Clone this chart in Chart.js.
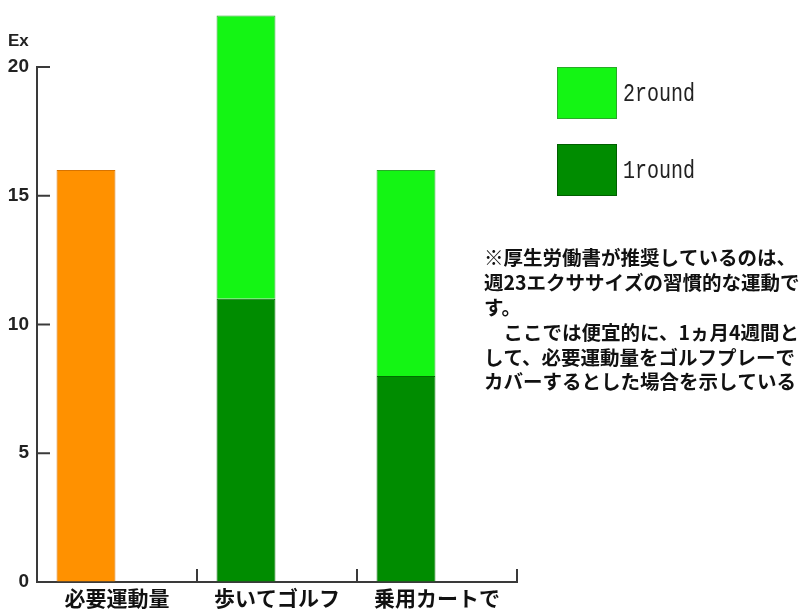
<!DOCTYPE html>
<html>
<head>
<meta charset="utf-8">
<script src="https://cdn.jsdelivr.net/npm/chart.js@4"></script>
<style>
  body { margin: 0; background: #fff; }
  #wrap { width: 806px; height: 613px; }
</style>
</head>
<body>
<div id="wrap"><canvas id="golfChart" width="806" height="613"></canvas></div>
<script>
// data
const categories = ['必要運動量', '歩いてゴルフ', '乗用カートで'];
const needValues = [16, null, null];    // required amount (orange)
const round1Values = [null, 11, 8];     // 1round
const round2Values = [null, 11, 8];     // 2round (added on top)
const yTicks = [0, 5, 10, 15, 20];
const yUnit = 'Ex';
const legendLabels = ['2round', '1round'];
const noteLines = [
    '※厚生労働書が推奨しているのは、',
    '週23エクササイズの習慣的な運動で',
    'す。',
    '　ここでは便宜的に、1ヵ月4週間と',
    'して、必要運動量をゴルフプレーで',
    'カバーするとした場合を示している'
];

const orange = 'rgb(255,145,0)';
const lightGreen = 'rgb(20,245,20)';
const darkGreen = 'rgb(0,140,0)';
const axisColor = '#3a3a3a';
const jpFont = "'Noto Sans CJK JP', sans-serif";

// inward tick marks, legend boxes and the note
const extras = {
    id: 'extras',
    afterDraw(chart) {
        const ctx = chart.ctx;
        const x = chart.scales.x, y = chart.scales.y;
        const area = chart.chartArea;
        ctx.save();
        ctx.strokeStyle = axisColor;
        ctx.lineWidth = 2;
        // y ticks pointing right
        yTicks.forEach(v => {
            if (v === 0) return;
            const py = y.getPixelForValue(v);
            ctx.beginPath();
            ctx.moveTo(area.left, py);
            ctx.lineTo(area.left + 13, py);
            ctx.stroke();
        });
        // x boundary ticks pointing up
        for (let i = 0; i < categories.length; i++) {
            let px;
            if (i < categories.length - 1) {
                px = (x.getPixelForValue(i) + x.getPixelForValue(i + 1)) / 2;
            } else {
                px = area.right;
            }
            ctx.beginPath();
            ctx.moveTo(px, area.bottom);
            ctx.lineTo(px, area.bottom - 13);
            ctx.stroke();
        }
        // unit label
        ctx.fillStyle = '#222';
        ctx.font = "bold 17px 'Liberation Sans', sans-serif";
        ctx.textAlign = 'left';
        ctx.textBaseline = 'middle';
        ctx.fillText(yUnit, 8, 41, 21);

        // legend
        const legendColors = [lightGreen, darkGreen];
        const boxBorders = ['rgb(40,170,40)', 'rgb(0,95,0)'];
        legendLabels.forEach((lab, i) => {
            const top = 67 + i * 77;
            ctx.fillStyle = legendColors[i];
            ctx.fillRect(557, top, 60, 52);
            ctx.strokeStyle = boxBorders[i];
            ctx.lineWidth = 1;
            ctx.strokeRect(557.5, top + 0.5, 59, 51);
            ctx.fillStyle = '#222';
            ctx.font = "25px 'Liberation Mono', monospace";
            ctx.textBaseline = 'middle';
            ctx.fillText(lab, 623, top + 27, 72);
        });

        // note
        ctx.fillStyle = '#111';
        ctx.font = 'bold 19.5px ' + jpFont;
        ctx.textBaseline = 'middle';
        noteLines.forEach((line, i) => {
            ctx.fillText(line, 484, 258 + i * 24.8);
        });
        ctx.restore();
    }
};

const ctx = document.getElementById('golfChart').getContext('2d');
const myChart = new Chart(ctx, {
    type: 'bar',
    data: {
        labels: categories,
        datasets: [
            {
                label: '必要運動量',
                data: needValues,
                backgroundColor: orange,
                borderColor: 'rgb(215,115,0)',
                borderWidth: 1,
                stack: 'main',
                clip: false
            },
            {
                label: legendLabels[1],
                data: round1Values,
                backgroundColor: darkGreen,
                borderColor: 'rgb(0,110,0)',
                borderWidth: 1,
                stack: 'main',
                clip: false
            },
            {
                label: legendLabels[0],
                data: round2Values,
                backgroundColor: lightGreen,
                borderColor: 'rgb(40,170,40)',
                borderWidth: 1,
                stack: 'main',
                clip: false
            },
            {
                // empty stack that pushes the bars to the left of each slot
                label: 'pad',
                data: [0, 0, 0],
                backgroundColor: 'rgba(0,0,0,0)',
                borderWidth: 0,
                stack: 'pad'
            }
        ]
    },
    options: {
        responsive: false,
        animation: false,
        categoryPercentage: 0.775,
        barPercentage: 0.95,
        layout: { padding: { top: 67, right: 289, left: 0, bottom: 0 } },
        plugins: {
            legend: { display: false },
            tooltip: { enabled: false }
        },
        scales: {
            x: {
                stacked: true,
                grid: { display: true, drawOnChartArea: false, drawTicks: false },
                border: { color: axisColor, width: 2 },
                ticks: {
                    color: '#111',
                    padding: 3,
                    font: { family: jpFont, size: 21, weight: 'bold' }
                },
                afterFit(scale) { scale.height = 31; }
            },
            y: {
                stacked: true,
                min: 0,
                max: 20,
                afterBuildTicks(scale) { scale.ticks = yTicks.map(v => ({ value: v })); },
                grid: { drawOnChartArea: false, drawTicks: false },
                border: { color: axisColor, width: 2 },
                ticks: {
                    color: '#222',
                    padding: 8,
                    font: { family: "'Liberation Sans', sans-serif", size: 19, weight: 'bold' }
                },
                afterFit(scale) { scale.width = 37; }
            }
        }
    },
    plugins: [extras]
});
</script>
</body>
</html>
